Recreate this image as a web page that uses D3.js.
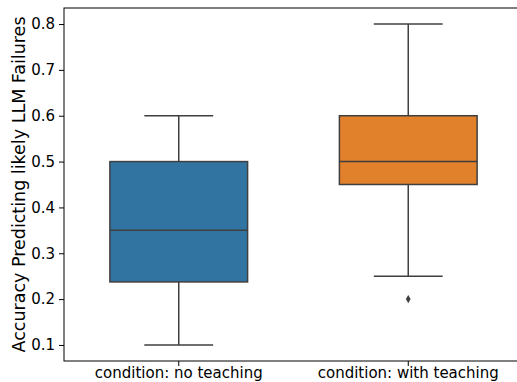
<!DOCTYPE html>
<html><head><meta charset="utf-8">
<script src="https://cdn.jsdelivr.net/npm/d3@7"></script>
<style>body{margin:0;background:#fff}svg{display:block}svg text{font-family:"DejaVu Sans",sans-serif}</style>
</head><body><svg id="c" width="517" height="382"></svg>
<script>
const categories = ["condition: no teaching", "condition: with teaching"];
const whiskerLow = [0.10, 0.25];
const q1 = [0.2375, 0.45];
const median = [0.35, 0.50];
const q3 = [0.50, 0.60];
const whiskerHigh = [0.60, 0.80];
const outliers = [[], [0.20]];
const colors = ["#3274a1", "#e1812c"];
const yTicks = [0.1, 0.2, 0.3, 0.4, 0.5, 0.6, 0.7, 0.8];

const svg = d3.select("#c");
const L = 64, R = 523, T = 8, B = 361;
const x = d3.scaleBand().domain(categories).range([L, R]).padding(0);
const y = d3.scaleLinear().domain([0.065, 0.835]).range([B, T]);
const edge = "#3f3f3f";
const bw = x.bandwidth() * 0.6;

const yAxis = svg.append("g").attr("transform", `translate(${L},0)`)
  .call(d3.axisLeft(y).tickValues(yTicks).tickFormat(d3.format(".1f")).tickSize(5).tickPadding(4));
yAxis.select(".domain").remove();
yAxis.attr("font-family", null).attr("font-size", null);
yAxis.selectAll("text").attr("font-size", 15).attr("fill", "#000");
yAxis.selectAll("line").attr("stroke", "#000");

const xAxis = svg.append("g").attr("transform", `translate(0,${B})`)
  .call(d3.axisBottom(x).tickSize(5).tickPadding(3));
xAxis.select(".domain").remove();
xAxis.attr("font-family", null).attr("font-size", null);
xAxis.selectAll("text").attr("font-size", 15).attr("fill", "#000").attr("dy", "0.62em");
xAxis.selectAll("line").attr("stroke", "#000");

const g = svg.append("g");
categories.forEach((c, i) => {
  const cx = x(c) + x.bandwidth() / 2;
  g.append("line").attr("x1", cx).attr("x2", cx).attr("y1", y(whiskerLow[i])).attr("y2", y(q1[i])).attr("stroke", edge).attr("stroke-width", 1.5);
  g.append("line").attr("x1", cx).attr("x2", cx).attr("y1", y(q3[i])).attr("y2", y(whiskerHigh[i])).attr("stroke", edge).attr("stroke-width", 1.5);
  [whiskerLow[i], whiskerHigh[i]].forEach(v => {
    g.append("line").attr("x1", cx - bw / 4).attr("x2", cx + bw / 4).attr("y1", y(v)).attr("y2", y(v)).attr("stroke", edge).attr("stroke-width", 1.5);
  });
  g.append("rect").attr("x", cx - bw / 2).attr("width", bw).attr("y", y(q3[i])).attr("height", y(q1[i]) - y(q3[i]))
    .attr("fill", colors[i]).attr("stroke", edge).attr("stroke-width", 1.5);
  g.append("line").attr("x1", cx - bw / 2).attr("x2", cx + bw / 2).attr("y1", y(median[i])).attr("y2", y(median[i])).attr("stroke", edge).attr("stroke-width", 1.5);
  outliers[i].forEach(v => {
    const py = y(v);
    g.append("path").attr("d", `M${cx},${py - 4.2}L${cx + 2.4},${py}L${cx},${py + 4.2}L${cx - 2.4},${py}Z`).attr("fill", edge);
  });
});

svg.append("rect").attr("x", L).attr("y", T).attr("width", R - L).attr("height", B - T)
  .attr("fill", "none").attr("stroke", "#000").attr("stroke-width", 1);

svg.append("text").attr("transform", `translate(20,${(T + B) / 2}) rotate(-90)`)
  .attr("text-anchor", "middle").attr("dominant-baseline", "middle").attr("font-size", 17.5).attr("fill", "#000")
  .text("Accuracy Predicting likely LLM Failures");
</script></body></html>
